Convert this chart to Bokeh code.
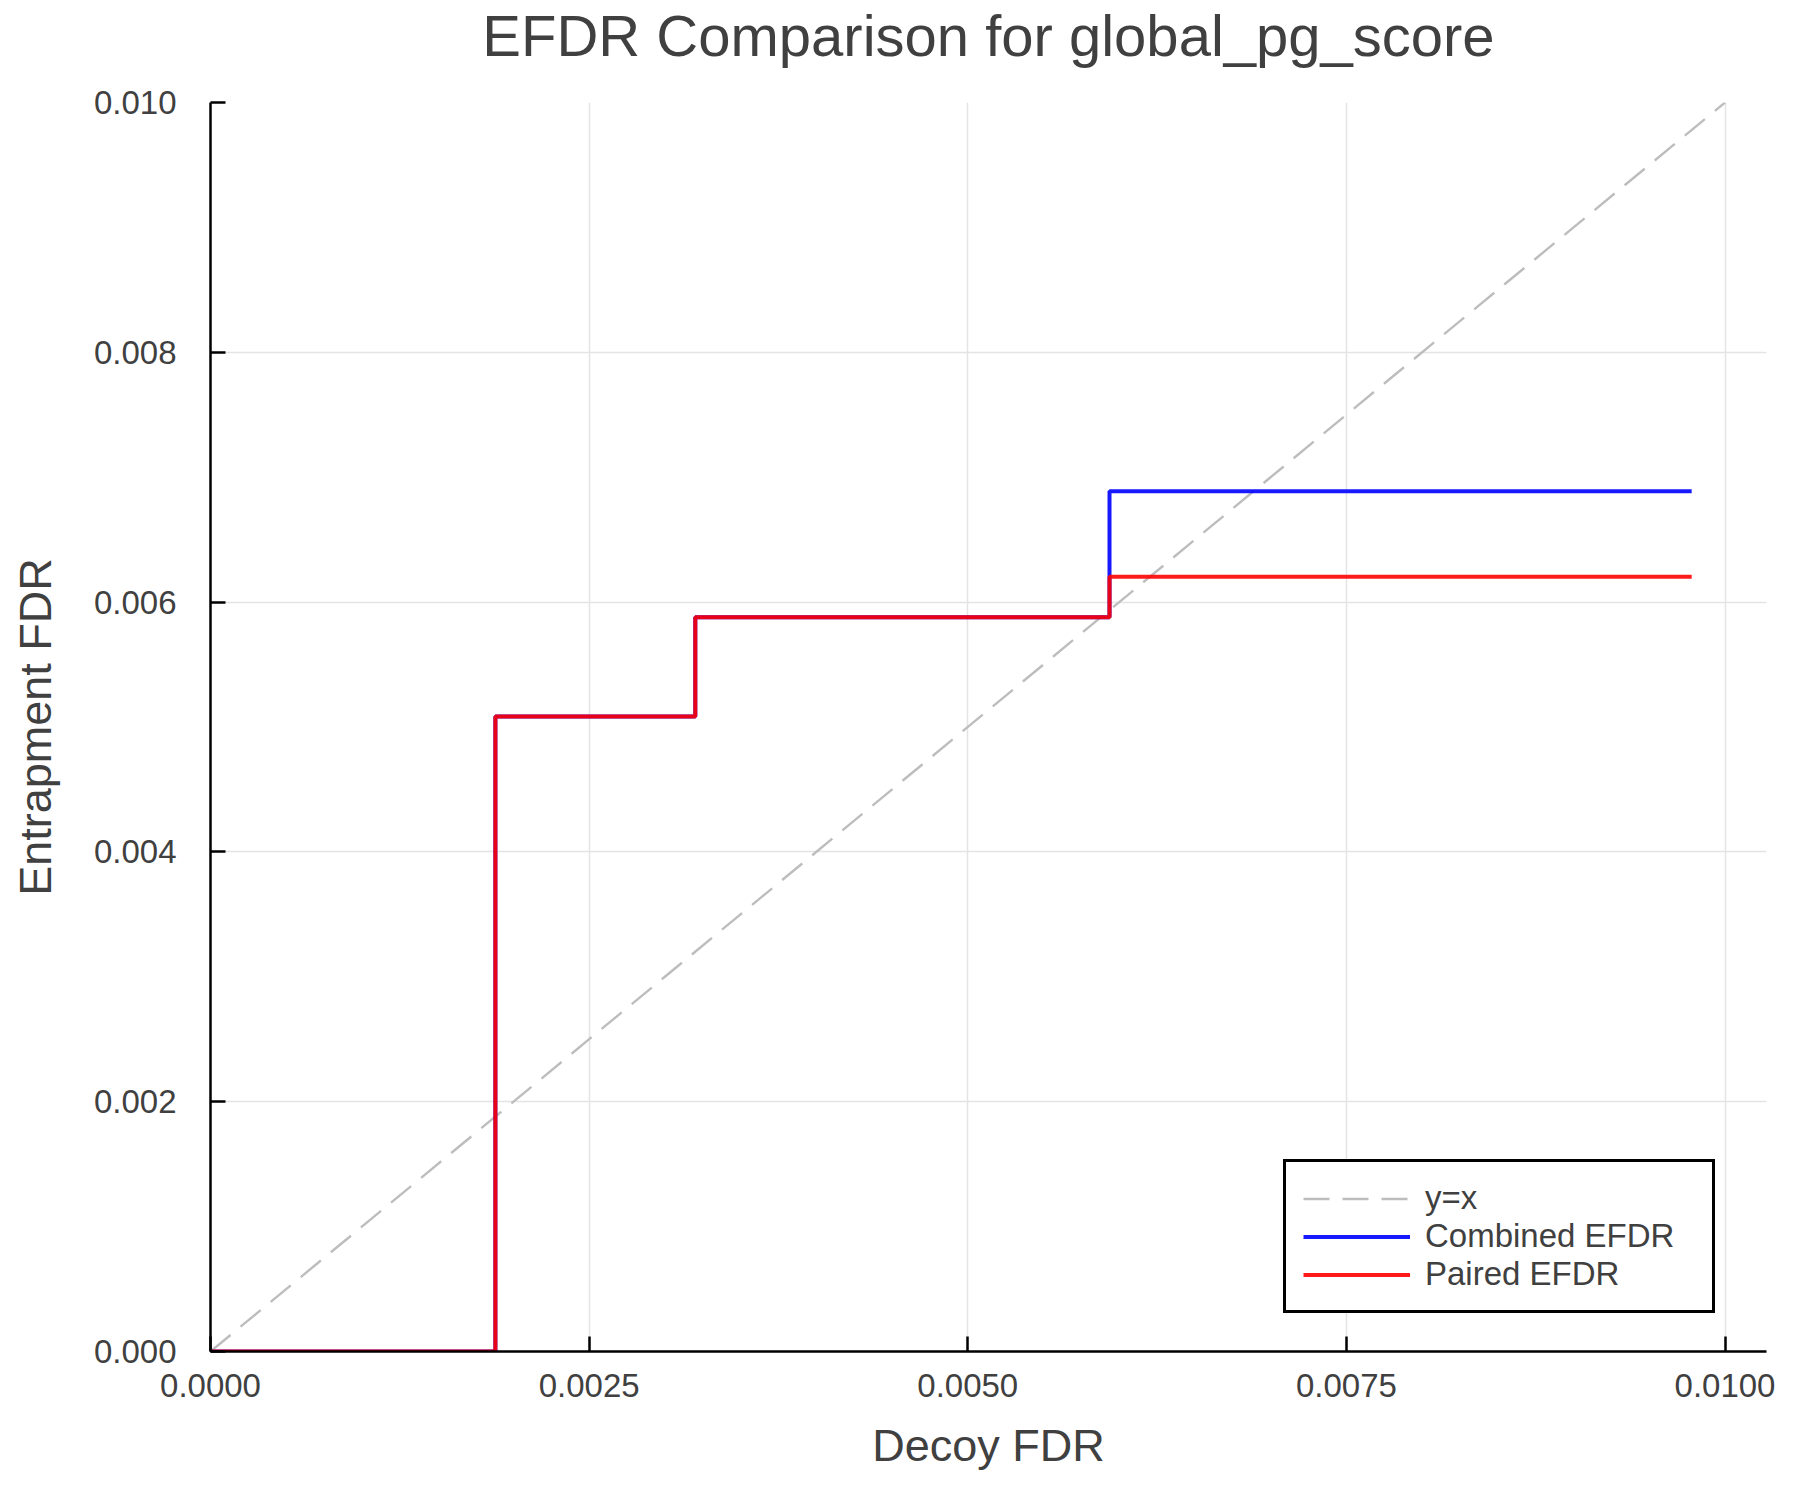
from bokeh.plotting import figure
from bokeh.models import (Range1d, FixedTicker, PrintfTickFormatter, Legend,
                          LegendItem, Title)
from bokeh.embed import file_html
from bokeh.resources import INLINE

# Data
decoy_fdr = [0.0, 0.001881, 0.003201, 0.005936, 0.00978]
combined_efdr = [0.0, 0.005084, 0.005879, 0.006888, 0.006888]
paired_efdr = [0.0, 0.005084, 0.005879, 0.006203, 0.006203]
identity_x = [0.0, 0.01]
identity_y = [0.0, 0.01]
x_ticks = [0.0, 0.0025, 0.005, 0.0075, 0.01]
y_ticks = [0.0, 0.002, 0.004, 0.006, 0.008, 0.01]
title_text = "EFDR Comparison for global_pg_score"

FONT = "Liberation Sans"
TXT = "#404040"

W, H = 1780, 1490
LEFT, RIGHT, TOP, BOTTOM = 210, 14, 102, 139

p = figure(width=W, height=H, output_backend="svg", toolbar_location=None,
           x_range=Range1d(0, 0.010274), y_range=Range1d(0, 0.01),
           min_border_left=LEFT, min_border_right=RIGHT, min_border_top=TOP,
           min_border_bottom=BOTTOM)
p.outline_line_color = None
p.background_fill_color = "white"
p.border_fill_color = "white"

try:
    p.title = None
except Exception:
    p.title.text = ""

# spacer (closest to frame) then the real title above it
spacer = Title(text=" ", text_font=FONT, text_font_size="20px", standoff=11)
p.add_layout(spacer, "above")
main_title = Title(text=title_text, text_font=FONT, text_font_size="58px",
                   text_font_style="normal", text_color=TXT, align="center",
                   standoff=0)
p.add_layout(main_title, "above")

for ax in (p.xaxis[0], p.yaxis[0]):
    ax.axis_line_width = 2.5
    ax.axis_line_color = "black"
    ax.major_tick_in = 15
    ax.major_tick_out = 0
    ax.major_tick_line_width = 2.5
    ax.major_tick_line_color = "black"
    ax.minor_tick_line_color = None
    ax.major_label_text_font = FONT
    ax.major_label_text_font_size = "33px"
    ax.major_label_text_color = TXT
    ax.axis_label_text_font = FONT
    ax.axis_label_text_font_size = "45px"
    ax.axis_label_text_font_style = "normal"
    ax.axis_label_text_color = TXT

p.xaxis.axis_label = "Decoy FDR"
p.yaxis.axis_label = "Entrapment FDR"
p.xaxis.ticker = FixedTicker(ticks=x_ticks)
p.yaxis.ticker = FixedTicker(ticks=y_ticks)
p.xaxis.formatter = PrintfTickFormatter(format="%.4f")
p.yaxis.formatter = PrintfTickFormatter(format="%.3f")
p.xaxis.major_label_standoff = 22
p.yaxis.major_label_standoff = 34
p.xaxis.axis_label_standoff = 20
p.yaxis.axis_label_standoff = 30

p.xgrid.ticker = FixedTicker(ticks=x_ticks)
p.ygrid.ticker = FixedTicker(ticks=y_ticks)
for g in (p.xgrid[0], p.ygrid[0]):
    g.grid_line_color = "#e4e4e4"
    g.grid_line_width = 1.5

r_id = p.line(identity_x, identity_y, line_color="#bdbdbd", line_width=2.4,
              line_dash="26 13")
r_comb = p.step(decoy_fdr, combined_efdr, mode="after", line_color="#0000ff",
                line_alpha=0.9, line_width=4)
r_pair = p.step(decoy_fdr, paired_efdr, mode="after", line_color="#ff0000",
                line_alpha=0.9, line_width=4)

legend = Legend(items=[
    LegendItem(label="y=x", renderers=[r_id]),
    LegendItem(label="Combined EFDR", renderers=[r_comb]),
    LegendItem(label="Paired EFDR", renderers=[r_pair]),
], location=(1073, 38))
legend.label_text_font = FONT
legend.label_text_font_size = "33px"
legend.label_text_color = TXT
legend.glyph_width = 107
legend.glyph_height = 37
legend.label_height = 37
legend.label_width = 270
legend.label_standoff = 15
legend.spacing = 0
legend.padding = 17
legend.margin = 0
legend.border_line_color = "black"
legend.border_line_width = 3
legend.border_line_alpha = 1.0
legend.background_fill_color = "white"
legend.background_fill_alpha = 1.0
p.add_layout(legend)

open("out.html", "w").write(file_html(p, INLINE))
